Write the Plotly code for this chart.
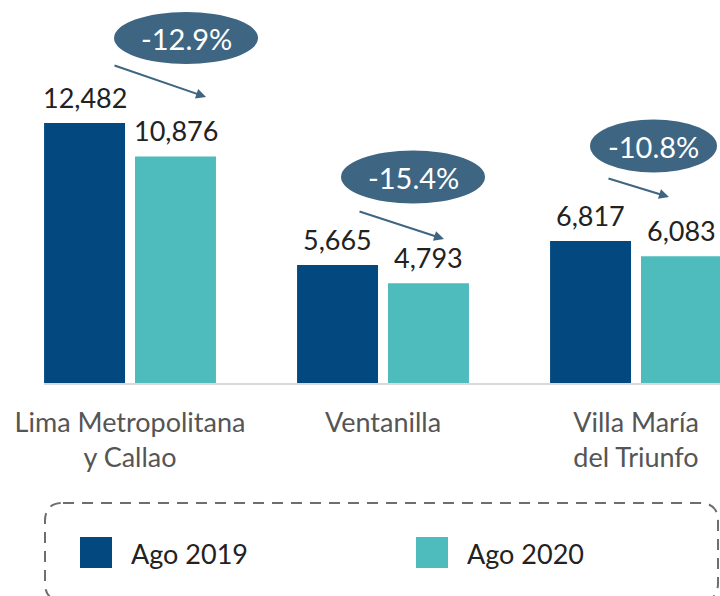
import plotly.graph_objects as go

# ---- data ----
categories = ["Lima Metropolitana<br>y Callao", "Ventanilla", "Villa María<br>del Triunfo"]
ago_2019 = [12482, 5665, 6817]
ago_2020 = [10876, 4793, 6083]
variation_labels = ["-12.9%", "-15.4%", "-10.8%"]
series_names = ["Ago 2019", "Ago 2020"]

C19 = "#03497f"
C20 = "#4ebbbd"
BUBBLE = "#3e6582"
FONT = "Lato, 'Open Sans', sans-serif"

fig = go.Figure()
fig.add_trace(go.Bar(x=categories, y=ago_2019, name=series_names[0],
                     marker=dict(color=C19, line=dict(width=0)), showlegend=False))
fig.add_trace(go.Bar(x=categories, y=ago_2020, name=series_names[1],
                     marker=dict(color=C20, line=dict(width=0)), showlegend=False))

annotations = []
shapes = []

# value labels above bars
for i, cat in enumerate(categories):
    for vals, xs in ((ago_2019, -45.5), (ago_2020, 45.5)):
        annotations.append(dict(x=i, y=vals[i], xref="x", yref="y", text=f"{vals[i]:,}",
                                showarrow=False, xshift=xs, yshift=7, yanchor="bottom",
                                font=dict(family=FONT, size=27, color="#222222")))

# bubble (ellipse) offsets relative to (category, 2019 value), pixels
bubble_geo = [(56, 85, 72, 26), (30, 88, 72, 26.5), (17.5, 95, 63.5, 26.5)]
arrow_geo = [(76, 26, -93, -32), (61, 26, -86, -28), (33, 44, -62, -19)]
for i in range(len(categories)):
    dx, dy, hw, hh = bubble_geo[i]
    shapes.append(dict(type="circle", xref="x", yref="y", xsizemode="pixel", ysizemode="pixel",
                       xanchor=i, yanchor=ago_2019[i],
                       x0=dx - hw, x1=dx + hw, y0=dy - hh, y1=dy + hh,
                       fillcolor=BUBBLE, line=dict(width=0), layer="above"))
    annotations.append(dict(x=i, y=ago_2019[i], xref="x", yref="y", text=variation_labels[i],
                            showarrow=False, xshift=dx, yshift=dy, xanchor="center", yanchor="middle",
                            font=dict(family=FONT, size=29, color="white")))
    hx, hy, ax, ay = arrow_geo[i]
    annotations.append(dict(x=i, y=ago_2019[i], xref="x", yref="y", text="",
                            showarrow=True, xshift=hx, yshift=hy, ax=ax, ay=ay,
                            arrowhead=2, arrowsize=1, arrowwidth=2, arrowcolor=BUBBLE, standoff=0))

# legend (manual) -- relative to bottom-left corner of plot area
L, R, T, B, r = 1, 674, -120, -218, 18
path = (f"M {L + r},{T} L {R - r},{T} Q {R},{T} {R},{T - r} L {R},{B + r} Q {R},{B} {R - r},{B} "
        f"L {L + r},{B} Q {L},{B} {L},{B + r} L {L},{T - r} Q {L},{T} {L + r},{T} Z")
shapes.append(dict(type="path", xref="paper", yref="paper", xsizemode="pixel", ysizemode="pixel",
                   xanchor=0, yanchor=0, path=path,
                   line=dict(color="#6e6e6e", width=2, dash="11px,8px")))
for name, col, sx in ((series_names[0], C19, 36), (series_names[1], C20, 372)):
    shapes.append(dict(type="rect", xref="paper", yref="paper", xsizemode="pixel", ysizemode="pixel",
                       xanchor=0, yanchor=0, x0=sx, x1=sx + 32, y0=-185, y1=-154,
                       fillcolor=col, line=dict(width=0)))
    annotations.append(dict(x=0, y=0, xref="paper", yref="paper", text=name, showarrow=False,
                            xanchor="left", yanchor="middle", xshift=sx + 49, yshift=-170,
                            font=dict(family=FONT, size=27, color="#222222")))

fig.update_layout(
    width=720, height=596,
    margin=dict(l=44, r=0, t=0, b=213),
    paper_bgcolor="white", plot_bgcolor="white",
    barmode="group", bargap=0.281, bargroupgap=0.11,
    annotations=annotations, shapes=shapes,
    showlegend=False,
    xaxis=dict(range=[-0.34, 2.332], showline=True, linecolor="#d9d9d9", linewidth=1.5,
               showgrid=False, zeroline=False, ticks="", ticklabelstandoff=15,
               tickfont=dict(family=FONT, size=27, color="#555555")),
    yaxis=dict(range=[0, 18387], visible=False),
)

fig.write_html("out.html", config={"displayModeBar": False},
               post_script="document.body.style.margin='0px';")
